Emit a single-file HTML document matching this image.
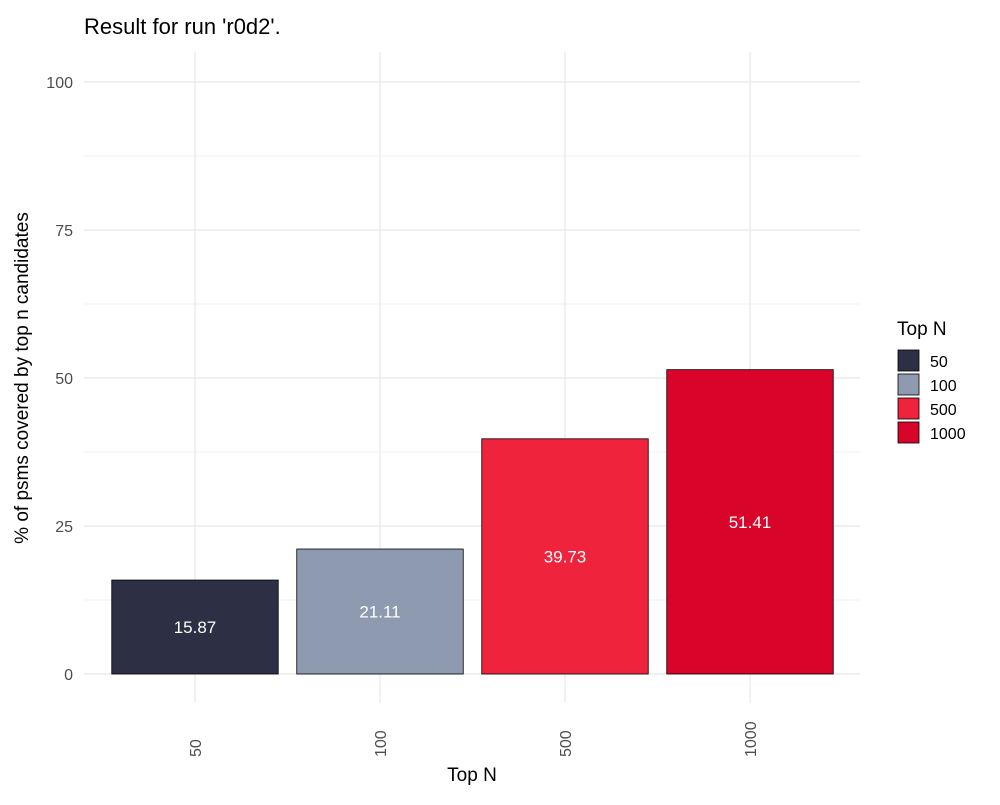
<!DOCTYPE html>
<html><head><meta charset="utf-8"><style>
body{margin:0;background:#fff;font-family:"Liberation Sans",sans-serif}
</style></head><body>
<svg id="chart" width="1000" height="800" xmlns="http://www.w3.org/2000/svg" font-family="Liberation Sans, sans-serif">
<rect width="1000" height="800" fill="#fff"/>
<text x="84" y="34" font-size="22" fill="#000">Result for run 'r0d2'.</text>
<g id="grid"></g><g id="bars"></g><g id="yticks"></g><g id="xticks"></g>
<text transform="translate(28,378) rotate(-90)" text-anchor="middle" font-size="19" fill="#000">% of psms covered by top n candidates</text>
<text x="472" y="781" text-anchor="middle" font-size="19" fill="#000">Top N</text>
<text x="897" y="335" font-size="19" fill="#000">Top N</text>
<g id="legend"></g>
</svg>
<script>
const categories=["50","100","500","1000"];
const values=[15.87,21.11,39.73,51.41];
const colors=["#2d3044","#8e9ab0","#ef233c","#d90429"];
const yTicks=[0,25,50,75,100];
const NS="http://www.w3.org/2000/svg";
const gx0=84,gx1=860;
const x0=102.5,x1=842.5,band=(x1-x0)/categories.length,barW=band*0.9;
const y=v=>674-v*5.92;
const xc=i=>x0+band*(i+0.5);
function mk(tag,attrs,parent,text){const e=document.createElementNS(NS,tag);for(const k in attrs)e.setAttribute(k,attrs[k]);if(text!==undefined)e.textContent=text;document.getElementById(parent).appendChild(e);return e;}
for(let v=0;v<=100;v+=12.5){const l=mk('line',{x1:gx0,x2:gx1,y1:y(v),y2:y(v),stroke:'#ebebeb','stroke-width':v%25===0?1.4:0.8},'grid');

}
categories.forEach((c,i)=>{const l=mk('line',{x1:xc(i),x2:xc(i),y1:52,y2:703,stroke:'#ebebeb','stroke-width':1.4},'grid');

});
yTicks.forEach(t=>{const e=mk('text',{x:73,y:y(t)+6,'text-anchor':'end','font-size':16,fill:'#4d4d4d'},'yticks',String(t));

});
categories.forEach((c,i)=>{
const r=mk('rect',{x:xc(i)-barW/2,y:y(values[i]),width:barW,height:y(0)-y(values[i]),fill:colors[i],stroke:'#000','stroke-width':0.8},'bars');


const t=mk('text',{x:xc(i),y:y(values[i]/2)+6,'text-anchor':'middle','font-size':17,fill:'#fff'},'bars',values[i].toFixed(2));


const xt=mk('text',{transform:`translate(${xc(i)+6},757) rotate(-90)`,'text-anchor':'start','font-size':16,fill:'#4d4d4d'},'xticks',c);


const k=mk('rect',{x:898,y:350+i*24,width:21,height:21,fill:colors[i],stroke:'#000','stroke-width':0.8},'legend');


const lt=mk('text',{x:930,y:367+i*24,'font-size':16,fill:'#000'},'legend',c);


});
</script>
</body></html>
